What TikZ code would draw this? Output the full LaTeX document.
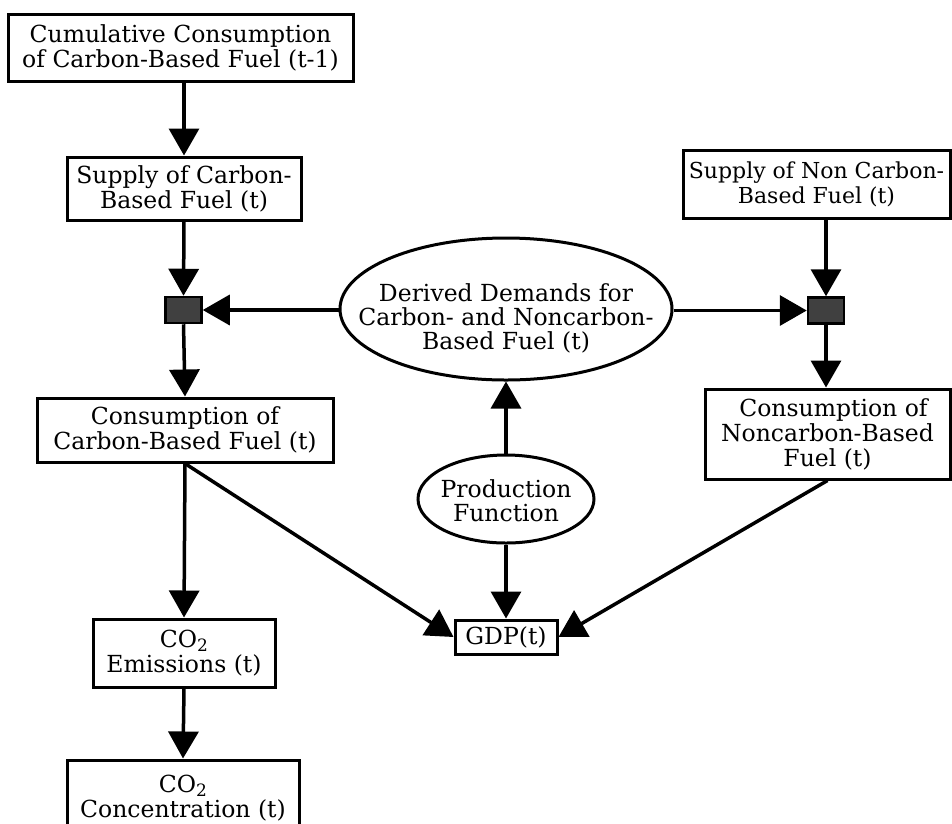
\documentclass[tikz,border=0pt]{standalone}
\usepackage{fontspec}
\setmainfont{DejaVu Serif}
\usetikzlibrary{arrows.meta,shapes.geometric}
\newcommand{\subtwo}{\raisebox{-0.3ex}{\fontsize{17}{17}\selectfont 2}}
\tikzset{
  box/.style={draw,line width=3pt,align=center,inner sep=0pt,font=\fontsize{23.5}{25}\selectfont},
  oval/.style={draw,ellipse,line width=3pt,inner sep=0pt},
  ovaltext/.style={align=center,inner sep=0pt,font=\fontsize{23.5}{24}\selectfont},
  junc/.style={draw,line width=2.5pt,fill=black!75,minimum width=36pt,minimum height=26pt,inner sep=0pt},
  flow/.style={line width=3.5pt,-{Triangle[length=27pt,width=30pt]}},
}
\begin{document}
\begin{tikzpicture}[x=1pt,y=-1pt]
\useasboundingbox (0,0) rectangle (952,823);
\node[box,minimum width=345pt,minimum height=67pt] (cum) at (180.5,47.5) {Cumulative Consumption\\of Carbon-Based Fuel (t-1)};
\node[box,minimum width=234pt,minimum height=63pt] (sup) at (184,188.5) {Supply of Carbon-\\Based Fuel (t)};
\node[junc] (sqL) at (183.5,310) {};
\node[box,minimum width=296pt,minimum height=64pt] (conC) at (185,430) {Consumption of\\Carbon-Based Fuel (t)};
\node[box,minimum width=182pt,minimum height=68pt] (emi) at (184,653) {CO\subtwo\\Emissions (t)};
\node[box,minimum width=232pt,minimum height=76pt] (conc) at (183,798) {CO\subtwo\\Concentration (t)};
\node[oval,minimum width=332pt,minimum height=142pt] (der) at (506,309) {};
\node[ovaltext] (dertext) at (506,318) {Derived Demands for\\Carbon- and Noncarbon-\\Based Fuel (t)};
\node[oval,minimum width=176pt,minimum height=88pt] (prod) at (506,499) {};
\node[ovaltext] (prodtext) at (506,501) {Production\\Function};
\node[box,minimum width=102pt,minimum height=34pt] (gdp) at (506,637) {GDP(t)};
\node[box,minimum width=267pt,minimum height=68pt,font=\fontsize{22}{25}\selectfont] (supN) at (816.5,184) {Supply of Non Carbon-\\Based Fuel (t)};
\node[junc] (sqR) at (826,310.5) {};
\node[box,minimum width=245pt,minimum height=90pt] (conN) at (827.5,434) {\hspace*{12pt}Consumption of\\Noncarbon-Based\\Fuel (t)};
\draw[flow] (sup.north |- cum.south) -- (sup.north);
\draw[flow] (sup.south) -- (sqL.north);
\draw[flow] (sqL.south) -- (conC.north);
\draw[flow] (der.west |- sqL.east) -- (sqL.east);
\draw[flow] (der.east |- sqR.west) -- (sqR.west);
\draw[flow] (sqR.north |- supN.south) -- (sqR.north);
\draw[flow] (sqR.south) -- (sqR.south |- conN.north);
\draw[flow] (prod.north) -- (der.south);
\draw[flow] (prod.south) -- (gdp.north);
\draw[flow] (conC.south) -- (gdp.west);
\draw[flow] (conN.south) -- (gdp.east);
\draw[flow] (conC.south) -- (emi.north);
\draw[flow] (emi.south) -- (conc.north);
\end{tikzpicture}
\end{document}
